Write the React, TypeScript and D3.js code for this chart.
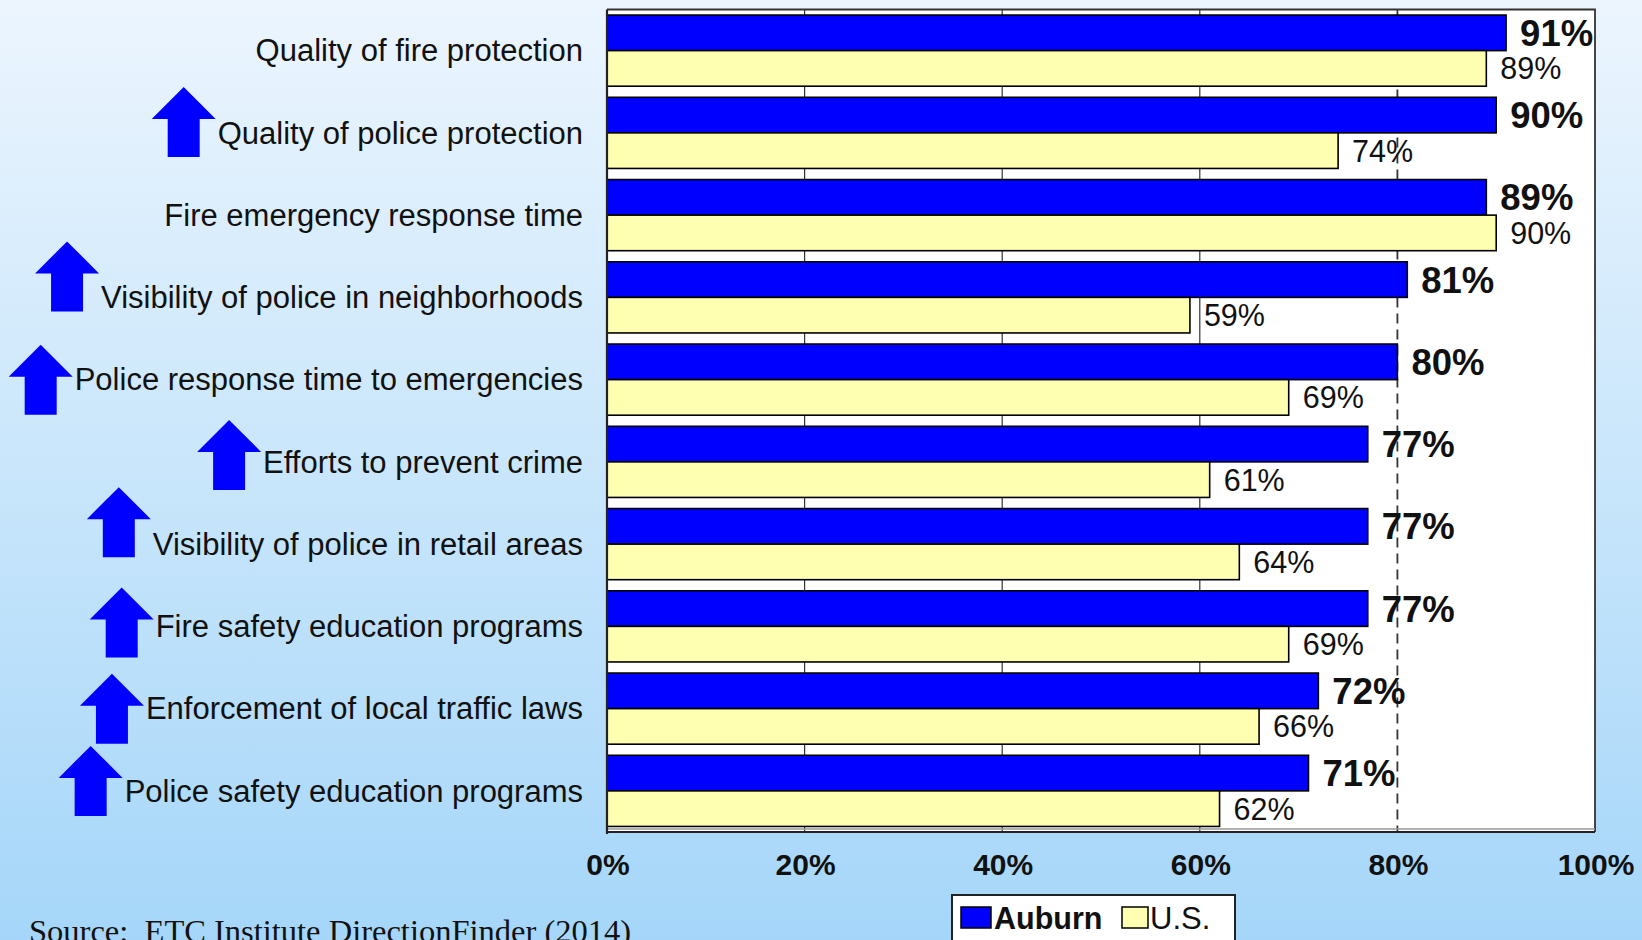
import React, { useEffect, useRef } from "react";
import * as d3 from "d3";

const categories = [
  "Quality of fire protection",
  "Quality of police protection",
  "Fire emergency response time",
  "Visibility of police in neighborhoods",
  "Police response time to emergencies",
  "Efforts to prevent crime",
  "Visibility of police in retail areas",
  "Fire safety education programs",
  "Enforcement of local traffic laws",
  "Police safety education programs",
];
const auburnValues = [91, 90, 89, 81, 80, 77, 77, 77, 72, 71];
const usValues = [89, 74, 90, 59, 69, 61, 64, 69, 66, 62];
const seriesNames = ["Auburn", "U.S."];
const xTicks = [0, 20, 40, 60, 80, 100];
// which categories carry an "up" arrow, and the arrow's vertical nudge (px) relative to the label
const arrowFlags = [false, true, false, true, true, true, true, true, true, true];
const arrowNudge = [0, -11, 0, -21, 0, -7, -22, -4, 0, -10];
const sourceText = "Source:  ETC Institute DirectionFinder (2014)";

const W = 1642;
const H = 940;
const BLUE = "#0000FF";
const YELLOW = "#FFFFB2";
const TXT = "#111111";

export default function App() {
  const ref = useRef<SVGSVGElement | null>(null);

  useEffect(() => {
    const svg = d3.select(ref.current);
    svg.selectAll("*").remove();

    const left = 607;
    const right = 1595;
    const top = 9.5;
    const bottom = 832;

    const defs = svg.append("defs");
    const grad = defs
      .append("linearGradient")
      .attr("id", "bg")
      .attr("x1", 0)
      .attr("y1", 0)
      .attr("x2", 0)
      .attr("y2", 1);
    grad.append("stop").attr("offset", "0%").attr("stop-color", "#ECF5FE");
    grad.append("stop").attr("offset", "50%").attr("stop-color", "#C9E6FB");
    grad.append("stop").attr("offset", "100%").attr("stop-color", "#A5D6F9");

    svg.append("rect").attr("width", W).attr("height", H).attr("fill", "url(#bg)");

    const x = d3.scaleLinear().domain([0, 100]).range([left, right]);
    const y = d3
      .scaleBand<string>()
      .domain(categories)
      .range([top, bottom])
      .paddingInner(0.135)
      .paddingOuter(0.0675);
    const ySub = d3.scaleBand<string>().domain(seriesNames).range([0, y.bandwidth()]);

    // plot area
    svg
      .append("rect")
      .attr("x", left)
      .attr("y", top)
      .attr("width", right - left)
      .attr("height", bottom - top)
      .attr("fill", "#FFFFFF");

    // gridlines
    const g = svg.append("g");
    xTicks
      .filter((t) => t > 0 && t < 100)
      .forEach((t) => {
        g.append("line")
          .attr("x1", x(t))
          .attr("x2", x(t))
          .attr("y1", top)
          .attr("y2", bottom)
          .attr("stroke", "#333")
          .attr("stroke-width", t === 80 ? 1.8 : 1.2)
          .attr("stroke-dasharray", t === 80 ? "10,6" : null);
      });

    // bars
    const rows = categories.map((c, i) => ({ c, a: auburnValues[i], u: usValues[i] }));
    const bars = svg.append("g");
    rows.forEach((r) => {
      const y0 = y(r.c) as number;
      [
        { s: "Auburn", v: r.a, fill: BLUE },
        { s: "U.S.", v: r.u, fill: YELLOW },
      ].forEach((b) => {
        bars
          .append("rect")
          .attr("x", x(0))
          .attr("y", y0 + (ySub(b.s) as number))
          .attr("width", x(b.v) - x(0))
          .attr("height", ySub.bandwidth())
          .attr("fill", b.fill)
          .attr("stroke", "#000")
          .attr("stroke-width", 1.6);
      });
    });

    // frame
    svg
      .append("path")
      .attr("d", `M${left},${top}H${right}V${bottom}`)
      .attr("fill", "none")
      .attr("stroke", "#333")
      .attr("stroke-width", 1.8);
    svg
      .append("line")
      .attr("x1", left)
      .attr("x2", right)
      .attr("y1", bottom - 3)
      .attr("y2", bottom - 3)
      .attr("stroke", "#999")
      .attr("stroke-width", 1.5);
    svg
      .append("line")
      .attr("x1", left)
      .attr("x2", right)
      .attr("y1", bottom)
      .attr("y2", bottom)
      .attr("stroke", "#222")
      .attr("stroke-width", 2.2);
    svg
      .append("line")
      .attr("x1", left)
      .attr("x2", left)
      .attr("y1", top)
      .attr("y2", bottom + 2)
      .attr("stroke", "#222")
      .attr("stroke-width", 2.2);

    // value labels
    const labels = svg.append("g").attr("font-family", "'Liberation Sans', Arial, sans-serif");
    rows.forEach((r) => {
      const y0 = y(r.c) as number;
      labels
        .append("text")
        .attr("x", x(r.a) + 14)
        .attr("y", y0 + (ySub("Auburn") as number) + ySub.bandwidth() / 2)
        .attr("dy", "0.36em")
        .attr("font-size", 36.5)
        .attr("font-weight", "bold")
        .attr("fill", TXT)
        .text(`${r.a}%`);
      labels
        .append("text")
        .attr("x", x(r.u) + 14)
        .attr("y", y0 + (ySub("U.S.") as number) + ySub.bandwidth() / 2)
        .attr("dy", "0.36em")
        .attr("font-size", 30.5)
        .attr("fill", TXT)
        .text(`${r.u}%`);
    });

    // x tick labels
    const ticks = svg.append("g").attr("font-family", "'Liberation Sans', Arial, sans-serif");
    xTicks.forEach((t) => {
      ticks
        .append("text")
        .attr("x", x(t) + 1)
        .attr("y", 875)
        .attr("text-anchor", "middle")
        .attr("font-size", 30)
        .attr("font-weight", "bold")
        .attr("fill", TXT)
        .text(`${t}%`);
    });

    // category labels and arrows
    const cat = svg.append("g").attr("font-family", "'Liberation Sans', Arial, sans-serif");
    categories.forEach((c, i) => {
      const cy = (y(c) as number) + y.bandwidth() / 2;
      const t = cat
        .append("text")
        .attr("x", left - 24)
        .attr("y", cy)
        .attr("dy", "0.35em")
        .attr("text-anchor", "end")
        .attr("font-size", 31)
        .attr("fill", TXT)
        .text(c);
      if (arrowFlags[i]) {
        const wText = (t.node() as SVGTextElement).getComputedTextLength();
        const startX = left - 24 - wText;
        const hw = 32; // half head width
        const sw = 16; // half shaft width
        const hh = 32; // head height
        const total = 70;
        const cx = startX - 2 - hw;
        const ty = cy + arrowNudge[i] - total / 2;
        const d = `M${cx},${ty} L${cx + hw},${ty + hh} L${cx + sw},${ty + hh} L${cx + sw},${ty + total} L${cx - sw},${ty + total} L${cx - sw},${ty + hh} L${cx - hw},${ty + hh} Z`;
        cat.insert("path", "text").attr("d", d).attr("fill", BLUE);
      }
    });

    // legend
    const lg = svg.append("g").attr("font-family", "'Liberation Sans', Arial, sans-serif");
    lg.append("rect")
      .attr("x", 952)
      .attr("y", 895)
      .attr("width", 283)
      .attr("height", 60)
      .attr("fill", "#fff")
      .attr("stroke", "#222")
      .attr("stroke-width", 2);
    lg.append("rect")
      .attr("x", 961)
      .attr("y", 907)
      .attr("width", 30)
      .attr("height", 21)
      .attr("fill", BLUE)
      .attr("stroke", "#000")
      .attr("stroke-width", 1.5);
    lg.append("text")
      .attr("x", 994)
      .attr("y", 929)
      .attr("font-size", 30.5)
      .attr("font-weight", "bold")
      .attr("fill", TXT)
      .text(seriesNames[0]);
    lg.append("rect")
      .attr("x", 1122)
      .attr("y", 907)
      .attr("width", 26)
      .attr("height", 21)
      .attr("fill", YELLOW)
      .attr("stroke", "#000")
      .attr("stroke-width", 1.5);
    lg.append("text")
      .attr("x", 1150)
      .attr("y", 929)
      .attr("font-size", 31)
      .attr("fill", TXT)
      .text(seriesNames[1]);

    // source
    svg
      .append("text")
      .attr("x", 29)
      .attr("y", 942)
      .attr("font-family", "'Liberation Serif', 'Times New Roman', serif")
      .attr("font-size", 32.5)
      .attr("fill", TXT)
      .style("white-space", "pre")
      .attr("xml:space", "preserve")
      .text(sourceText);
  }, []);

  return (
    <svg
      ref={ref}
      width={W}
      height={H}
      style={{ position: "absolute", left: 0, top: 0, display: "block" }}
    />
  );
}
